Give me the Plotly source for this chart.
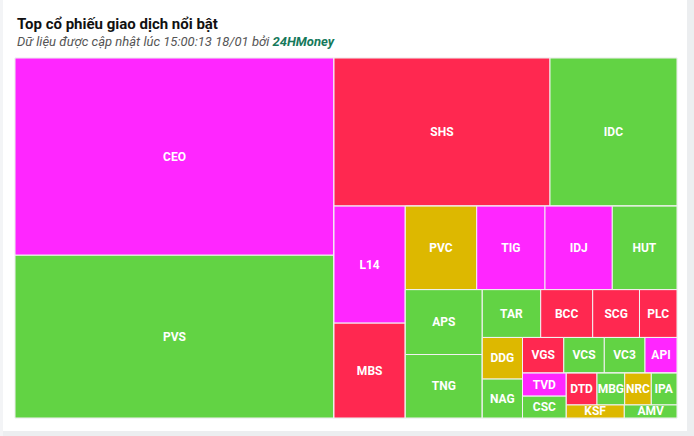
import plotly.graph_objects as go

# ---- data (trading value) ----
tickers = ["CEO", "PVS", "SHS", "IDC", "L14", "MBS", "PVC", "TIG", "IDJ", "HUT",
           "APS", "TNG", "TAR", "BCC", "SCG", "PLC", "DDG", "NAG", "VGS", "VCS",
           "VC3", "API", "TVD", "CSC", "DTD", "MBG", "NRC", "IPA", "KSF", "AMV"]
values = [62747, 51774, 31903, 18758, 8321, 6745, 5948, 5689, 5606, 5390,
          4982, 4874, 2786, 2480, 2232, 1789, 1668, 1560, 1466, 1438,
          1445, 1136, 1007, 955, 976, 881, 846, 817, 754, 685]
status = ["ceil", "up", "down", "up", "ceil", "down", "ref", "ceil", "ceil", "up",
          "up", "up", "up", "down", "down", "down", "ref", "up", "down", "up",
          "up", "ceil", "ceil", "up", "down", "up", "ref", "up", "ref", "up"]
# layout group each ticker belongs to (slice-dice hierarchy)
stock_group = ["g1", "g1", "g2a", "g2a", "g3", "g3", "g5", "g5", "g5", "g5",
               "g7", "g7", "g9", "g9", "g9", "g9", "g11", "g11", "g13", "g13",
               "g13", "g13", "g15", "g15", "g17", "g17", "g17", "g17", "g18", "g18"]
group_ids = ["root", "g1", "g2", "g2a", "g2b", "g3", "g4", "g5", "g6", "g7", "g8",
             "g9", "g10", "g11", "g12", "g13", "g14", "g15", "g16", "g17", "g18"]
group_parents = ["", "root", "root", "g2", "g2", "g2b", "g2b", "g4", "g4", "g6", "g6",
                 "g8", "g8", "g10", "g10", "g12", "g12", "g14", "g14", "g16", "g16"]

status_colors = {"ceil": "#FF26FF", "up": "#62D344", "down": "#FF2850", "ref": "#DDB800"}

ids = group_ids + tickers
labels = [""] * len(group_ids) + tickers
parents = group_parents + stock_group
vals = [0] * len(group_ids) + values
colors = ["#ffffff"] * len(group_ids) + [status_colors[s] for s in status]

W, H = 694, 436
ML, MR, MT, MB = 15, 17, 58, 18
PW, PH = W - ML - MR, H - MT - MB


def px_x(x):
    return (x - ML) / PW


def px_y(y):
    return (H - MB - y) / PH


fig = go.Figure(go.Treemap(
    ids=ids, labels=labels, parents=parents, values=vals,
    branchvalues="remainder", sort=False,
    tiling=dict(packing="slice-dice", pad=0),
    marker=dict(colors=colors, line=dict(color="#f2f2f2", width=1),
                pad=dict(t=0, l=0, r=0, b=0), depthfade=False),
    textinfo="label", textposition="middle center",
    textfont=dict(family="Roboto", size=12, color="white", weight="bold"),
    pathbar=dict(visible=False), root=dict(color="#ffffff"),
    hoverinfo="label+value",
))

fig.update_layout(
    width=W, height=H,
    margin=dict(l=ML, r=MR, t=MT, b=MB, pad=0),
    paper_bgcolor="#ffffff",
    showlegend=False,
    uniformtext=dict(minsize=12, mode="show"),
    annotations=[
        dict(text="<b>Top cổ phiếu giao dịch nổi bật</b>", xref="paper", yref="paper",
             x=0, y=px_y(24), xanchor="left", yanchor="middle", showarrow=False,
             font=dict(family="Roboto", size=15, color="#111111")),
        dict(text="<i>Dữ liệu được cập nhật lúc 15:00:13 18/01 bởi </i>"
                  "<i><b><span style='color:#16795b'>24HMoney</span></b></i>",
             xref="paper", yref="paper",
             x=0, y=px_y(41.5), xanchor="left", yanchor="middle", showarrow=False,
             font=dict(family="Roboto", size=13, color="#555555")),
    ],
    shapes=[
        dict(type="rect", xref="paper", yref="paper", x0=px_x(687), x1=px_x(694),
             y0=px_y(436), y1=px_y(0), fillcolor="#eceef0", line=dict(width=0), layer="above"),
        dict(type="rect", xref="paper", yref="paper", x0=px_x(0), x1=px_x(694),
             y0=px_y(436), y1=px_y(431), fillcolor="#eceef0", line=dict(width=0), layer="above"),
        dict(type="rect", xref="paper", yref="paper", x0=px_x(0), x1=px_x(3),
             y0=px_y(436), y1=px_y(0), fillcolor="#f3f4f6", line=dict(width=0), layer="above"),
    ],
)

fig.write_html("out.html")
